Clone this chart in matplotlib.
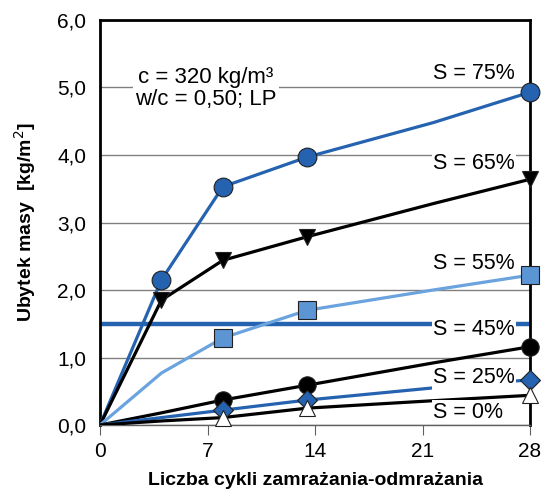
import matplotlib.pyplot as plt

plt.rcParams['font.family'] = ['Liberation Sans', 'DejaVu Sans']

# liczba cykli (punkty pomiarowe) i ubytki masy dla poszczególnych S
x_pom = [0, 4, 8, 13.5, 21.7, 28]
s75 = [0, 2.15, 3.53, 3.97, 4.48, 4.93]
s65 = [0, 1.85, 2.44, 2.79, 3.28, 3.64]
s55 = [0, 0.77, 1.29, 1.70, 2.00, 2.22]
s45 = [0, 0.18, 0.37, 0.59, 0.92, 1.16]
s25 = [0, 0.11, 0.22, 0.37, 0.55, 0.67]
s0 = [0, 0.06, 0.11, 0.25, 0.36, 0.44]

etykiety = ['S = 75%', 'S = 65%', 'S = 55%', 'S = 45%', 'S = 25%', 'S = 0%']
poz_etykiet = [5.21, 3.88, 2.40, 1.41, 0.70, 0.19]
x_ticks = [0, 7, 14, 21, 28]
y_ticks = [0, 1, 2, 3, 4, 5, 6]
poziom = 1.5

niebieski = '#2563b0'
jasny = '#6aa3de'

fig = plt.figure(figsize=(5.45, 4.95), dpi=100)
ax = fig.add_axes([0.1835, 0.1414, 0.789, 0.8182])

ax.axhline(poziom, color=niebieski, lw=3.2, zorder=2)

# (wartości, kolor linii, marker, wypełnienie, rozmiar, indeksy punktów z markerem)
serie = [
    (s75, niebieski, 'o', niebieski, 13.5, [1, 2, 3, 5]),
    (s65, 'black', 'v', 'black', 12, [1, 2, 3, 5]),
    (s55, jasny, 's', '#5b95d3', 12.5, [2, 3, 5]),
    (s45, 'black', 'o', 'black', 12.5, [2, 3, 5]),
    (s25, niebieski, 'D', niebieski, 10, [2, 3, 5]),
    (s0, 'black', '^', 'white', 12, [2, 3, 5]),
]
for y, kol, mk, fc, ms, idx in serie:
    ax.plot(x_pom, y, color=kol, lw=2.3, zorder=3, solid_joinstyle='round')
    ax.plot([x_pom[i] for i in idx], [y[i] for i in idx], ls='none', marker=mk,
            ms=ms, mfc=fc, mec='#202020', mew=0.8, zorder=4, clip_on=False)

for tekst, yy in zip(etykiety, poz_etykiet):
    ax.text(21.7, yy, tekst, fontsize=15.5, va='center', ha='left', zorder=5,
            bbox=dict(facecolor='white', edgecolor='none', pad=1))

ax.text(6.9, 4.98, 'c = 320 kg/m³\nw/c = 0,50; LP', fontsize=16, ha='center',
        va='center', linespacing=1.05, zorder=5,
        bbox=dict(facecolor='white', edgecolor='none', pad=2))

ax.set_xlim(0, 28)
ax.set_ylim(0, 6)
ax.set_xticks(x_ticks)
ax.set_yticks(y_ticks)
ax.set_yticklabels([f'{v:.1f}'.replace('.', ',') for v in y_ticks])
ax.tick_params(axis='y', length=0, labelsize=15, pad=10)
ax.tick_params(axis='x', length=7, color='#606060', labelsize=15, pad=5)
ax.grid(axis='y', color='#808080', lw=1)
ax.set_axisbelow(True)
for s in ['left', 'top', 'right']:
    ax.spines[s].set_linewidth(2)
ax.spines['bottom'].set_linewidth(1)
ax.spines['bottom'].set_color('#606060')

ax.set_xlabel('Liczba cykli zamrażania-odmrażania', fontsize=14, fontweight='bold', labelpad=8)
ax.set_ylabel('Ubytek masy  [kg/m$^2$]', fontsize=14, fontweight='bold', labelpad=14)

plt.savefig('out.png', dpi=100)
